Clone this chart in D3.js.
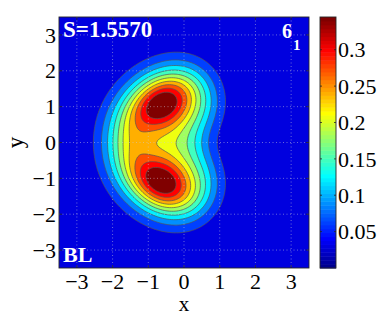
<!DOCTYPE html>
<html><head><meta charset="utf-8">
<script src="https://cdn.jsdelivr.net/npm/d3@7"></script>
<style>body{margin:0;background:#fff}</style>
</head><body>
<svg id="chart" width="382" height="317"></svg>
<script>
// ---------------- data ----------------
const xTicks = [-3, -2, -1, 0, 1, 2, 3];
const yTicks = [-3, -2, -1, 0, 1, 2, 3];
const cbTicks = [0.05, 0.1, 0.15, 0.2, 0.25, 0.3];
const contourLevels = [0.03, 0.06, 0.09, 0.12, 0.15, 0.18, 0.21, 0.24, 0.27, 0.30];
const valueMax = 0.345;
const axisRange = [-3.5, 3.5];
// kidney-shaped support of the density (outline)
const maskX = [-2.20, -2.07, -1.69, -1.10, -0.57, -0.08, 0.32, 0.60, 0.78, 0.85, 0.78, 0.58, 0.40, 0.34,
               0.40, 0.58, 0.78, 0.85, 0.78, 0.60, 0.32, -0.08, -0.57, -1.10, -1.69, -2.07];
const maskY = [0.00, 0.75, 1.41, 1.91, 2.13, 2.20, 2.08, 1.84, 1.52, 1.15, 0.78, 0.42, 0.16, 0.00,
               -0.16, -0.42, -0.78, -1.15, -1.52, -1.84, -2.08, -2.20, -2.13, -1.91, -1.41, -0.75];
const edgeSoftness = 0.42;
const plateauLevel = 0.51;
// humps: x, y, amplitude, sigma along / across, tilt (deg)
const humpX   = [-0.63, -0.66, -1.45];
const humpY   = [ 1.09, -1.12,  0.00];
const humpAmp = [ 0.52,  0.52,  0.10];
const humpSa  = [ 0.62,  0.62,  0.33];
const humpSb  = [ 0.47,  0.47,  0.55];
const humpTilt= [ 30,   -30,    0];
const labelS = "S=1.5570";
const labelState = "6", labelStateSub = "1";
const labelCorner = "BL";

// ---------------- layout ----------------
const svg = d3.select("#chart");
const P = {left: 59, top: 17, right: 309, bottom: 268};
const CB = {left: 320, right: 336};
const x = d3.scaleLinear().domain(axisRange).range([P.left, P.right]);
const y = d3.scaleLinear().domain(axisRange).range([P.bottom, P.top]);
const cbY = d3.scaleLinear().domain([0, valueMax]).range([P.bottom, P.top]);

function jet64(i) { // MATLAB jet(64), i = 1..64
  const n = 16, u = [];
  for (let k = 1; k <= n; k++) u.push(k / n);
  for (let k = 0; k < n - 1; k++) u.push(1);
  for (let k = n; k >= 1; k--) u.push(k / n);
  const uu = idx => (idx >= 1 && idx <= u.length) ? u[idx - 1] : 0;
  return d3.rgb(Math.round(uu(i - 24) * 255), Math.round(uu(i - 8) * 255), Math.round(uu(i + 8) * 255)).toString();
}
function colorOf(v) {
  return jet64(Math.max(1, Math.min(64, Math.floor(v / valueMax * 64) + 1)));
}

// ---------------- field ----------------
const step = 0.05;
const n = Math.round((axisRange[1] - axisRange[0]) / step) + 1;
const poly = maskX.map((v, i) => [v, maskY[i]]);
let mask = new Float64Array(n * n);
for (let j = 0; j < n; j++) for (let i = 0; i < n; i++) {
  const xx = axisRange[0] + i * step, yy = axisRange[1] - j * step;
  mask[j * n + i] = d3.polygonContains(poly, [xx, yy]) ? 1 : 0;
}
const sc = edgeSoftness / step, R = Math.ceil(3.2 * sc);
const ker = d3.range(-R, R + 1).map(k => Math.exp(-k * k / (2 * sc * sc)));
const ks = d3.sum(ker); for (let k = 0; k < ker.length; k++) ker[k] /= ks;
function blur(src, horiz) {
  const out = new Float64Array(n * n);
  for (let j = 0; j < n; j++) for (let i = 0; i < n; i++) {
    let s = 0;
    for (let k = -R; k <= R; k++) {
      const ii = horiz ? i + k : i, jj = horiz ? j : j + k;
      if (ii < 0 || jj < 0 || ii >= n || jj >= n) continue;
      s += src[jj * n + ii] * ker[k + R];
    }
    out[j * n + i] = s;
  }
  return out;
}
mask = blur(blur(mask, true), false);

const values = new Float64Array(n * n);
let vmaxRaw = 0;
for (let j = 0; j < n; j++) {
  const yy = axisRange[1] - j * step;
  for (let i = 0; i < n; i++) {
    const xx = axisRange[0] + i * step;
    let w = plateauLevel;
    for (let h = 0; h < humpX.length; h++) {
      const t = humpTilt[h] * Math.PI / 180;
      const dx = xx - humpX[h], dy = yy - humpY[h];
      const a = dx * Math.cos(t) + dy * Math.sin(t), b = -dx * Math.sin(t) + dy * Math.cos(t);
      w += humpAmp[h] * Math.exp(-(a * a) / (2 * humpSa[h] ** 2) - (b * b) / (2 * humpSb[h] ** 2));
    }
    const v = w * mask[j * n + i];
    values[j * n + i] = v;
    if (v > vmaxRaw) vmaxRaw = v;
  }
}
for (let k = 0; k < values.length; k++) values[k] *= valueMax / vmaxRaw;

const proj = d3.geoTransform({
  point: function(gx, gy) {
    this.stream.point(x(axisRange[0] + (gx - 0.5) * step), y(axisRange[1] - (gy - 0.5) * step));
  }
});
const path = d3.geoPath(proj);

svg.append("clipPath").attr("id", "clip").append("rect")
  .attr("x", P.left).attr("y", P.top).attr("width", P.right - P.left).attr("height", P.bottom - P.top);
const plot = svg.append("g").attr("clip-path", "url(#clip)");
plot.append("rect").attr("x", P.left).attr("y", P.top)
  .attr("width", P.right - P.left).attr("height", P.bottom - P.top)
  .attr("fill", colorOf(contourLevels[0]));
const bands = d3.contours().size([n, n]).thresholds(contourLevels)(values);
plot.selectAll("path.band").data(bands).join("path")
  .attr("class", "band")
  .attr("d", path)
  .attr("fill", (d, k) => colorOf(k + 1 < contourLevels.length ? contourLevels[k + 1] : valueMax))
  .attr("stroke", "#555555").attr("stroke-width", 0.7);

// dotted grid
const grid = svg.append("g").attr("stroke", "#c8c8d8").attr("stroke-opacity", 0.75)
  .attr("stroke-width", 0.7).attr("stroke-dasharray", "1,2.5");
grid.selectAll("line.gx").data(xTicks).join("line").attr("class", "gx")
  .attr("x1", d => x(d)).attr("x2", d => x(d)).attr("y1", P.top).attr("y2", P.bottom);
grid.selectAll("line.gy").data(yTicks).join("line").attr("class", "gy")
  .attr("y1", d => y(d)).attr("y2", d => y(d)).attr("x1", P.left).attr("x2", P.right);

// ticks (inward, mirrored) and box
const tk = svg.append("g").attr("stroke", "#262626").attr("stroke-width", 0.8);
const TL = 3;
xTicks.forEach(v => {
  tk.append("line").attr("x1", x(v)).attr("x2", x(v)).attr("y1", P.bottom).attr("y2", P.bottom - TL);
  tk.append("line").attr("x1", x(v)).attr("x2", x(v)).attr("y1", P.top).attr("y2", P.top + TL);
});
yTicks.forEach(v => {
  tk.append("line").attr("y1", y(v)).attr("y2", y(v)).attr("x1", P.left).attr("x2", P.left + TL);
  tk.append("line").attr("y1", y(v)).attr("y2", y(v)).attr("x1", P.right).attr("x2", P.right - TL);
});
svg.append("rect").attr("x", P.left).attr("y", P.top)
  .attr("width", P.right - P.left).attr("height", P.bottom - P.top)
  .attr("fill", "none").attr("stroke", "#262626").attr("stroke-width", 0.9);

const fmt = v => (v < 0 ? "\u2212" + Math.abs(v) : String(v));
const serif = "'Liberation Serif', 'Times New Roman', serif";
svg.append("g").selectAll("text").data(xTicks).join("text")
  .attr("x", d => x(d)).attr("y", 289).attr("text-anchor", "middle")
  .attr("font-family", serif).attr("font-size", 22).attr("fill", "#000").text(fmt);
svg.append("g").selectAll("text").data(yTicks).join("text")
  .attr("x", 56).attr("y", d => y(d)).attr("dy", "0.35em").attr("text-anchor", "end")
  .attr("font-family", serif).attr("font-size", 22).attr("fill", "#000").text(fmt);
svg.append("text").attr("x", x(0)).attr("y", 311).attr("text-anchor", "middle")
  .attr("font-family", serif).attr("font-size", 21).text("x");
svg.append("text").attr("transform", `translate(23,${y(0)}) rotate(-90)`).attr("text-anchor", "middle")
  .attr("font-family", serif).attr("font-size", 23).text("y");

// annotations
svg.append("text").attr("x", 63).attr("y", 37).attr("font-family", serif).attr("font-weight", "bold")
  .attr("font-size", 23).attr("fill", "#fff").text(labelS);
svg.append("text").attr("x", 282).attr("y", 38).attr("font-family", serif).attr("font-weight", "bold")
  .attr("font-size", 20).attr("fill", "#fff").text(labelState);
svg.append("text").attr("x", 293).attr("y", 50).attr("font-family", serif).attr("font-weight", "bold")
  .attr("font-size", 15).attr("fill", "#fff").text(labelStateSub);
svg.append("text").attr("x", 63).attr("y", 262).attr("font-family", serif).attr("font-weight", "bold")
  .attr("font-size", 22).attr("fill", "#fff").text(labelCorner);

// colorbar
const cb = svg.append("g");
const nC = 64;
cb.selectAll("rect.c").data(d3.range(nC)).join("rect").attr("class", "c")
  .attr("x", CB.left).attr("width", CB.right - CB.left)
  .attr("y", i => cbY((i + 1) * valueMax / nC)).attr("height", i => cbY(i * valueMax / nC) - cbY((i + 1) * valueMax / nC) + 0.5)
  .attr("fill", i => jet64(i + 1));
cb.append("rect").attr("x", CB.left).attr("y", P.top).attr("width", CB.right - CB.left)
  .attr("height", P.bottom - P.top).attr("fill", "none").attr("stroke", "#262626").attr("stroke-width", 0.9);
cbTicks.forEach(v => {
  cb.append("line").attr("x1", CB.right).attr("x2", CB.right - 2).attr("y1", cbY(v)).attr("y2", cbY(v)).attr("stroke", "#262626").attr("stroke-width", 0.8);
  cb.append("line").attr("x1", CB.left).attr("x2", CB.left + 2).attr("y1", cbY(v)).attr("y2", cbY(v)).attr("stroke", "#262626").attr("stroke-width", 0.8);
});
cb.selectAll("text").data(cbTicks).join("text")
  .attr("x", 338).attr("y", d => cbY(d)).attr("dy", "0.35em")
  .attr("font-family", serif).attr("font-size", 22).attr("fill", "#000").text(d => String(d));
</script>
</body></html>
